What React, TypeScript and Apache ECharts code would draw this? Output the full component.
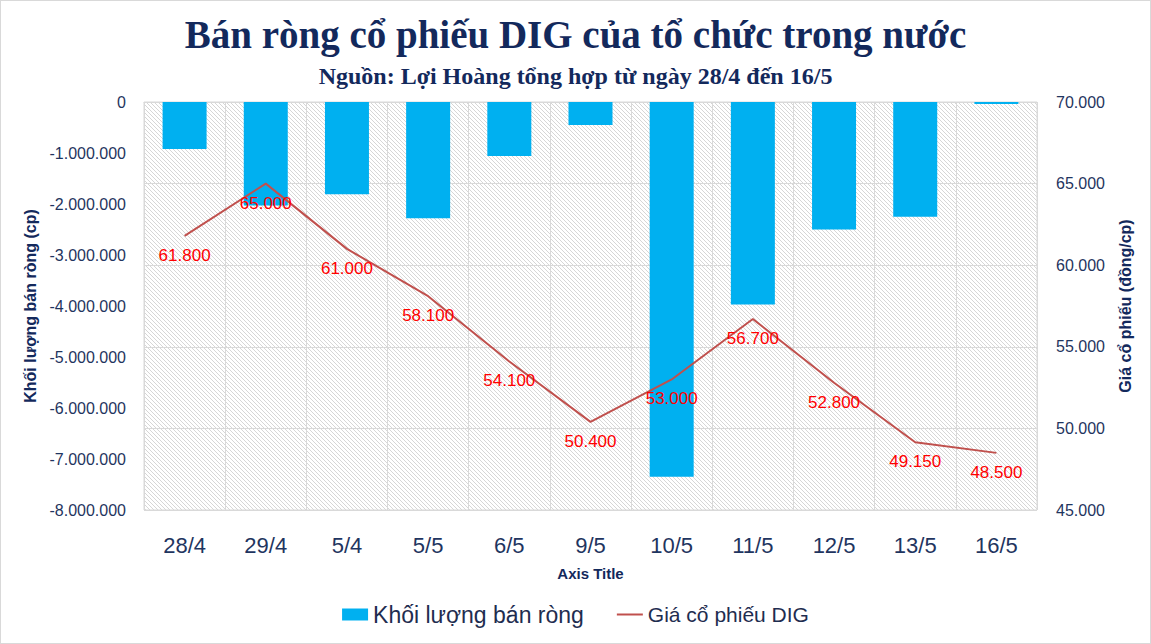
import React, { useEffect, useRef } from "react";
import * as echarts from "echarts";

const categories = ["28/4", "29/4", "5/4", "5/5", "6/5", "9/5", "10/5", "11/5", "12/5", "13/5", "16/5"];
const netSellVolume = [-920000, -2030000, -1810000, -2280000, -1060000, -450000, -7350000, -3970000, -2500000, -2250000, -40000];
const priceDIG = [61800, 65000, 61000, 58100, 54100, 50400, 53000, 56700, 52800, 49150, 48500];
const leftTicks = { min: -8000000, max: 0, interval: 1000000 };
const rightTicks = { min: 45000, max: 70000, interval: 5000 };

const NAVY = "#13295c";
const AXIS_TXT = "#1f3560";
const GRIDC = "#d9d9d9";

function fmt(v: number): string {
  const neg = v < 0;
  const s = Math.round(Math.abs(v)).toString().replace(/\B(?=(\d{3})+(?!\d))/g, ".");
  return (neg ? "-" : "") + s;
}

const hatchSvg =
  "<svg xmlns='http://www.w3.org/2000/svg' width='4' height='4'>" +
  "<rect width='4' height='4' fill='white'/>" +
  "<path d='M0,0L4,4M-1,3L1,5M3,-1L5,1' stroke='%23c4c4c4' stroke-width='0.7'/></svg>";
const hatchUrl = "data:image/svg+xml;utf8," + hatchSvg;

export default function App() {
  const ref = useRef<HTMLDivElement>(null);
  useEffect(() => {
    document.body.style.margin = "0";
    if (!ref.current) return;
    const chart = echarts.init(ref.current, undefined, { renderer: "svg" });
    chart.setOption({
      animation: false,
      backgroundColor: "#ffffff",
      title: [
        {
          text: "Bán ròng cổ phiếu DIG của tổ chức trong nước",
          left: "center",
          top: 9,
          textStyle: { fontFamily: "Liberation Serif", fontWeight: "bold", fontSize: 39, color: NAVY },
        },
        {
          text: "Nguồn: Lợi Hoàng tổng hợp từ ngày 28/4 đến 16/5",
          left: "center",
          top: 58,
          textStyle: { fontFamily: "Liberation Serif", fontWeight: "bold", fontSize: 24, color: NAVY },
        },
      ],
      legend: {
        bottom: 12,
        left: "center",
        itemGap: 32,
        itemWidth: 26,
        itemHeight: 12,
        textStyle: { fontFamily: "Liberation Sans", color: "#1f2d50", fontSize: 22 },
        data: [
          { name: "Khối lượng bán ròng", icon: "rect", textStyle: { fontSize: 23 } },
          { name: "Giá cổ phiếu DIG", textStyle: { fontSize: 21 } },
        ],
      },
      grid: {
        left: 143,
        right: 113,
        top: 101,
        bottom: 133,
        outerBoundsMode: "none",
        show: true,
        borderColor: GRIDC,
        borderWidth: 1,
        backgroundColor: { image: hatchUrl, repeat: "repeat" },
      },
      xAxis: {
        type: "category",
        data: categories,
        name: "Axis Title",
        nameLocation: "middle",
        nameGap: 56,
        nameTextStyle: { fontFamily: "Liberation Sans", fontWeight: "bold", fontSize: 15, color: NAVY },
        axisLine: { show: true, lineStyle: { color: GRIDC, width: 1 } },
        axisTick: { show: true, length: 7, lineStyle: { color: GRIDC } },
        axisLabel: { fontFamily: "Liberation Sans", fontSize: 22, color: AXIS_TXT, margin: 24 },
        splitLine: { show: true, lineStyle: { color: GRIDC, width: 1 } },
      },
      yAxis: [
        {
          type: "value",
          min: leftTicks.min,
          max: leftTicks.max,
          interval: leftTicks.interval,
          name: "Khối lượng bán ròng (cp)",
          nameLocation: "middle",
          nameRotate: 90,
          nameGap: 104,
          nameTextStyle: { fontFamily: "Liberation Sans", fontWeight: "bold", fontSize: 16, color: NAVY },
          axisLine: { show: false },
          axisTick: { show: false },
          splitLine: { show: false },
          axisLabel: { fontFamily: "Liberation Sans", fontSize: 16, color: AXIS_TXT, margin: 18, formatter: (v: number) => fmt(v) },
        },
        {
          type: "value",
          position: "right",
          min: rightTicks.min,
          max: rightTicks.max,
          interval: rightTicks.interval,
          name: "Giá cổ phiếu (đồng/cp)",
          nameLocation: "middle",
          nameRotate: 90,
          nameGap: 80,
          nameTextStyle: { fontFamily: "Liberation Sans", fontWeight: "bold", fontSize: 16, color: NAVY },
          axisLine: { show: false },
          axisTick: { show: false },
          splitLine: { show: true, lineStyle: { color: GRIDC, width: 1 } },
          axisLabel: { fontFamily: "Liberation Sans", fontSize: 16, color: AXIS_TXT, margin: 19, formatter: (v: number) => fmt(v) },
        },
      ],
      series: [
        {
          name: "Khối lượng bán ròng",
          type: "bar",
          yAxisIndex: 0,
          data: netSellVolume,
          barWidth: 44,
          itemStyle: { color: "#00b0f0" },
          z: 2,
        },
        {
          name: "Giá cổ phiếu DIG",
          type: "line",
          yAxisIndex: 1,
          data: priceDIG,
          symbol: "circle",
          symbolSize: 2,
          showSymbol: true,
          showAllSymbol: true,
          lineStyle: { color: "#c0504d", width: 2 },
          itemStyle: { color: "rgba(192,80,77,0)", borderWidth: 0 },
          z: 3,
          label: {
            show: true,
            position: "bottom",
            distance: 10,
            fontFamily: "Liberation Sans",
            fontSize: 17,
            color: "#ff0000",
            formatter: (p: any) => fmt(p.value),
          },
        },
      ],
    });
    return () => chart.dispose();
  }, []);
  return (
    <div
      ref={ref}
      style={{ width: 1151, height: 644, boxSizing: "border-box", border: "1px solid #d9d9d9" }}
    />
  );
}
